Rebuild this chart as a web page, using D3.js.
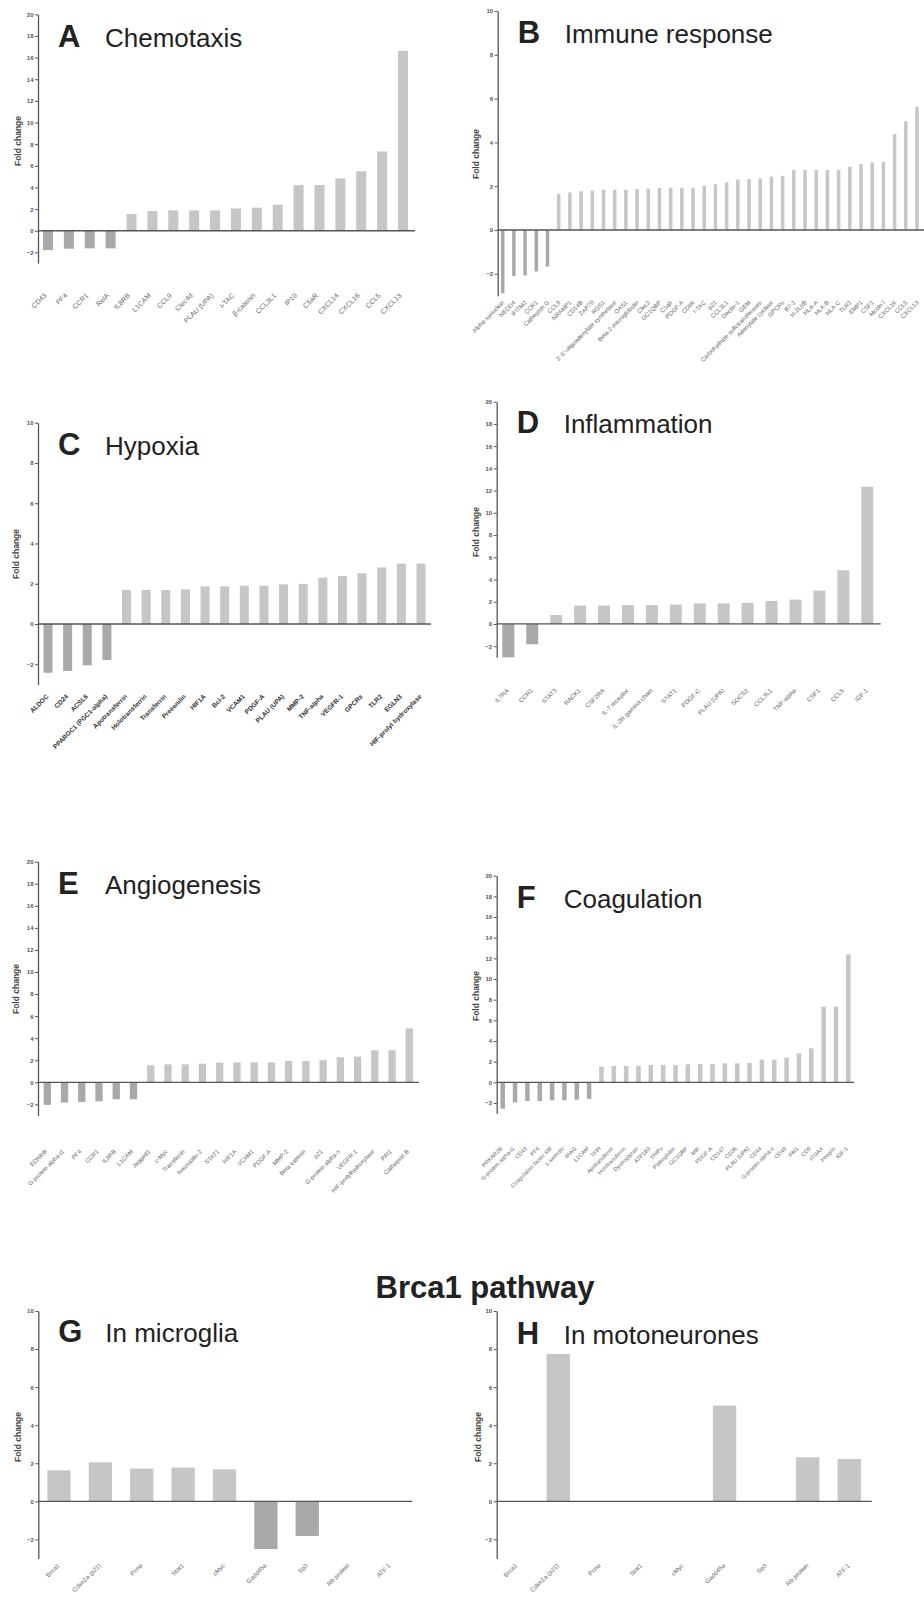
<!DOCTYPE html>
<html>
<head>
<meta charset="utf-8">
<script src="https://cdn.jsdelivr.net/npm/d3@7"></script>
<style>
  body { margin: 0; background: #fff; }
  svg { display: block; font-family: "Liberation Sans", Arial, sans-serif; }
</style>
</head>
<body>
<div class="chart"></div>
<script>
// data (fold change per gene)
const chemotaxisGenes = ["CD43", "PF4", "CCR1", "RelA", "IL8RB", "L1CAM", "CCL9", "Clec4d", "PLAU (UPA)", "I-TAC",
  "β-catenin", "CCL3L1", "IP10", "C5aR", "CXCL14", "CXCL16", "CCL5", "CXCL13"];
const chemotaxisFold = [-1.79, -1.66, -1.63, -1.63, 1.54, 1.82, 1.88, 1.88, 1.88, 2.06,
  2.13, 2.40, 4.22, 4.22, 4.84, 5.49, 7.33, 16.61];

const immuneGenes = ["Alpha-synuclein", "NEDD4", "IFITM2", "CCR1", "Cathepsin G", "CCL9", "NRAMP1", "CD14B", "ZAP70", "RGS1",
  "2'-5'-oligoadenylate synthetase", "OAS1", "Beta-2-microglobulin", "Clec2", "GC1QBP", "C1qb", "PDGF-A", "CD86", "I-TAC", "p21",
  "CCL3L1", "Dectin-1", "GEM", "Carbohydrate sulfotransferases", "Adenylate cyclase", "GPCRs", "B7-2", "H-2L(d)", "HLA-A", "HLA-B",
  "HLA-C", "TLR2", "EMP1", "CSF1", "Mcoln I", "CXCL16", "CCL5", "CXCL13"];
const immuneFold = [-2.89, -2.10, -2.07, -1.89, -1.67, 1.64, 1.72, 1.77, 1.80, 1.84,
  1.84, 1.84, 1.87, 1.89, 1.93, 1.93, 1.93, 1.93, 2.02, 2.09,
  2.18, 2.31, 2.33, 2.36, 2.44, 2.47, 2.74, 2.74, 2.74, 2.74,
  2.74, 2.89, 3.01, 3.09, 3.12, 4.38, 4.96, 5.63];

const hypoxiaGenes = ["ALDOC", "CD24", "ACSL6", "PPARGC1 (PGC1-alpha)", "Apotransferrin", "Holotransferrin", "Transferrin", "Presenilin",
  "HIF1A", "Bcl-2", "VCAM1", "PDGF-A", "PLAU (UPA)", "MMP-2", "TNF-alpha", "VEGFR-1", "GPCRs", "TLR2", "EGLN3", "HIF-prolyl hydroxylase"];
const hypoxiaFold = [-2.42, -2.33, -2.05, -1.79, 1.69, 1.69, 1.69, 1.72, 1.87, 1.87,
  1.90, 1.90, 1.97, 1.99, 2.30, 2.38, 2.52, 2.81, 3.00, 3.00];

const inflammationGenes = ["IL7RA", "CCR1", "STAT3", "RACK1", "CSF2RA", "IL-7 receptor", "IL-2R gamma chain", "STAT1",
  "PDGF-C", "PLAU (UPA)", "SOCS2", "CCL3L1", "TNF-alpha", "CSF1", "CCL5", "IGF-1"];
const inflammationFold = [-3.00, -1.83, 0.81, 1.65, 1.65, 1.70, 1.70, 1.74, 1.86, 1.86, 1.89, 2.07, 2.19, 3.00, 4.83, 12.35];

const angiogenesisGenes = ["EDNRB", "G-protein alpha-i1", "PF4", "CCR1", "IL8RB", "L1CAM", "Jagged1", "c-Myc", "Transferrin",
  "Neuropilin-2", "STAT1", "HIF1A", "VCAM1", "PDGF-A", "MMP-2", "Beta-catenin", "p21", "G-protein alpha-s", "VEGFR-1",
  "HIF-prolylhydroxylase", "PAI1", "Cathepsin B"];
const angiogenesisFold = [-2.05, -1.84, -1.78, -1.72, -1.54, -1.54, 1.54, 1.63, 1.63, 1.69, 1.78,
  1.81, 1.81, 1.81, 1.93, 1.93, 2.00, 2.27, 2.33, 2.90, 2.90, 4.89];

const coagulationGenes = ["PRKAR2B", "G-protein alpha-i1", "CD43", "PF4", "Coagulation factor XIII", "L-selectin", "IRAG", "L1CAM",
  "TFPI", "Apotransferrin", "Holotransferrin", "Dystroglycan", "ATP1B3", "TRIPs", "Plakoglobin", "GC1QBP", "MIF", "PDGF-A",
  "CD147", "CD36", "PLAU (UPA)", "CD44", "G-protein alpha-s", "CD48", "PAI1", "CD9", "ITGAX", "Integrin", "IGF-1"];
const coagulationFold = [-2.55, -1.94, -1.81, -1.81, -1.74, -1.74, -1.68, -1.61,
  1.52, 1.58, 1.58, 1.61, 1.68, 1.68, 1.68, 1.74, 1.77, 1.77, 1.84, 1.84, 1.87,
  2.19, 2.19, 2.39, 2.81, 3.29, 7.32, 7.32, 12.39];

const brcaGenes = ["Brca1", "Cdkn1a (p21)", "Pcna", "Stat1", "cMyc", "Gadd45a", "Sp3", "Rb protein", "ATF-1"];
const microgliaFold = [1.63, 2.05, 1.72, 1.77, 1.68, -2.51, -1.82, 0, 0];
const motoneuronFold = [0, 7.74, 0, 0, 0, 5.03, 0, 2.31, 2.22];

// layout of each panel (pixels)
const panels = [
  {letter: "A", title: "Chemotaxis", genes: chemotaxisGenes, fold: chemotaxisFold, yMax: 20,
   axisX: 38, yTop: 14.3, yBot: 263.2, first: 48, last: 403, xEnd: 415, barW: 10,
   lblY: 296, lblDx: -1, lblSize: 7, lblBold: false, titleY: 47, fcY: 141, fcX: 21},
  {letter: "B", title: "Immune response", genes: immuneGenes, fold: immuneFold, yMax: 10,
   axisX: 497.7, yTop: 11, yBot: 295.7, first: 502.7, last: 917, xEnd: 924, barW: 3.5,
   lblY: 303, lblDx: 2, lblSize: 6, lblBold: false, titleY: 43, fcY: 154, fcX: 479},
  {letter: "C", title: "Hypoxia", genes: hypoxiaGenes, fold: hypoxiaFold, yMax: 10,
   axisX: 38, yTop: 422.7, yBot: 684.4, first: 48, last: 421, xEnd: 431, barW: 9,
   lblY: 697, lblDx: 1, lblSize: 6.5, lblBold: true, titleY: 455, fcY: 554, fcX: 19},
  {letter: "D", title: "Inflammation", genes: inflammationGenes, fold: inflammationFold, yMax: 20,
   axisX: 496.7, yTop: 401.7, yBot: 657.3, first: 508.3, last: 867.3, xEnd: 880.7, barW: 12,
   lblY: 691, lblDx: 1, lblSize: 6.2, lblBold: false, titleY: 433, fcY: 532, fcX: 479},
  {letter: "E", title: "Angiogenesis", genes: angiogenesisGenes, fold: angiogenesisFold, yMax: 20,
   axisX: 38, yTop: 861.7, yBot: 1115.4, first: 47.3, last: 409.3, xEnd: 419, barW: 7.3,
   lblY: 1152, lblDx: 0, lblSize: 6, lblBold: false, titleY: 894, fcY: 989, fcX: 19},
  {letter: "F", title: "Coagulation", genes: coagulationGenes, fold: coagulationFold, yMax: 20,
   axisX: 496.7, yTop: 875.7, yBot: 1113.3, first: 502.7, last: 848.3, xEnd: 854, barW: 4.5,
   lblY: 1149, lblDx: 0, lblSize: 5.6, lblBold: false, titleY: 908, fcY: 996, fcX: 479},
  {letter: "G", title: "In microglia", genes: brcaGenes, fold: microgliaFold, yMax: 10,
   axisX: 38.3, yTop: 1311, yBot: 1558.4, first: 59, last: 390, xEnd: 412.3, barW: 23.3,
   lblY: 1566, lblDx: 1, lblSize: 6.2, lblBold: false, titleY: 1342, fcY: 1437, fcX: 21},
  {letter: "H", title: "In motoneurones", genes: brcaGenes, fold: motoneuronFold, yMax: 10,
   axisX: 496.7, yTop: 1311, yBot: 1558.4, first: 516.7, last: 849.3, xEnd: 871.7, barW: 23.3,
   lblY: 1566, lblDx: 1, lblSize: 6.2, lblBold: false, titleY: 1344, fcY: 1437, fcX: 481}
];

const svg = d3.select(".chart")
  .append("svg")
  .attr("width", 924)
  .attr("height", 1604);

svg.append("rect").attr("width", 924).attr("height", 1604).attr("fill", "#fff");

panels.forEach(p => {
  const g = svg.append("g");

  const y = d3.scaleLinear()
    .domain([-3, p.yMax])
    .range([p.yBot, p.yTop]);

  const x = d3.scalePoint()
    .domain(d3.range(p.genes.length))
    .range([p.first, p.last]);

  // bars
  g.selectAll("rect.bar")
    .data(p.fold)
    .enter()
    .append("rect")
    .attr("class", "bar")
    .attr("x", (d, i) => x(i) - p.barW / 2)
    .attr("y", d => y(Math.max(0, d)))
    .attr("width", p.barW)
    .attr("height", d => Math.abs(y(d) - y(0)))
    .attr("fill", d => d < 0 ? "#a9a9a9" : "#c6c6c6");

  // y axis
  const yAxis = d3.axisLeft(y)
    .tickValues(d3.range(-2, p.yMax + 1, 2))
    .tickSize(3)
    .tickSizeOuter(0)
    .tickPadding(1.5);

  const ya = g.append("g")
    .attr("transform", `translate(${p.axisX},0)`)
    .call(yAxis);
  ya.select(".domain").attr("stroke", "#555").attr("stroke-width", 1.3);
  ya.selectAll(".tick line").attr("stroke", "#555").attr("stroke-width", 1);
  ya.selectAll(".tick text")
    .attr("font-size", 6)
    .attr("font-weight", "bold")
    .attr("fill", "#555")
    .attr("font-family", "Liberation Sans, Arial, sans-serif");

  // x axis at zero
  g.append("line")
    .attr("x1", p.axisX)
    .attr("x2", p.xEnd)
    .attr("y1", y(0))
    .attr("y2", y(0))
    .attr("stroke", "#555")
    .attr("stroke-width", 1.3);

  // rotated gene labels
  g.selectAll("text.gene")
    .data(p.genes)
    .enter()
    .append("text")
    .attr("class", "gene")
    .text(d => d)
    .attr("text-anchor", "end")
    .attr("transform", (d, i) => `translate(${x(i) + p.lblDx},${p.lblY}) rotate(-45)`)
    .attr("font-size", p.lblSize)
    .attr("font-weight", p.lblBold ? "bold" : "normal")
    .attr("fill", p.lblBold ? "#333" : "#666");

  // y label
  g.append("text")
    .text("Fold change")
    .attr("text-anchor", "middle")
    .attr("transform", `translate(${p.fcX},${p.fcY}) rotate(-90)`)
    .attr("font-size", 8.5)
    .attr("font-weight", "bold")
    .attr("fill", "#444");

  // panel letter and title
  g.append("text")
    .text(p.letter)
    .attr("x", p.axisX + 20)
    .attr("y", p.titleY)
    .attr("font-size", 31)
    .attr("font-weight", "bold")
    .attr("fill", "#222");

  g.append("text")
    .text(p.title)
    .attr("x", p.axisX + 67)
    .attr("y", p.titleY)
    .attr("font-size", 26)
    .attr("fill", "#222");
});

svg.append("text")
  .text("Brca1 pathway")
  .attr("x", 485)
  .attr("y", 1298)
  .attr("text-anchor", "middle")
  .attr("font-size", 31)
  .attr("font-weight", "bold")
  .attr("fill", "#222");
</script>
</body>
</html>
